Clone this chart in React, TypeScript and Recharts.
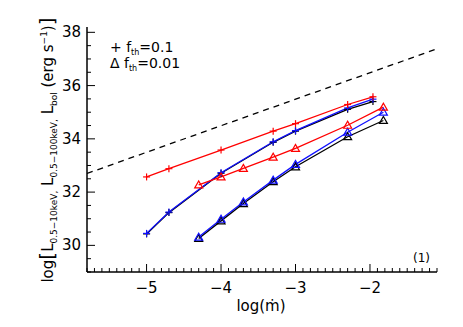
import React from 'react';
import { LineChart, Line, XAxis, YAxis } from 'recharts';

// log(mdot) positions
const mdotPlus = [-5, -4.7, -4, -3.3, -3, -2.3, -1.96];
const mdotTri = [-4.3, -4, -3.7, -3.3, -3, -2.3, -1.82];

// f_th = 0.1 (plus)
const bolPlus = [32.57, 32.88, 33.58, 34.29, 34.57, 35.29, 35.58];
const hardPlus = [30.45, 31.25, 32.73, 33.89, 34.31, 35.16, 35.49];
const softPlus = [30.43, 31.23, 32.71, 33.87, 34.29, 35.11, 35.4];

// f_th = 0.01 (triangle)
const bolTri = [32.27, 32.57, 32.89, 33.31, 33.64, 34.51, 35.19];
const hardTri = [30.31, 30.98, 31.63, 32.45, 33.04, 34.25, 35.0];
const softTri = [30.26, 30.92, 31.57, 32.39, 32.95, 34.08, 34.69];

// dashed reference line
const refX = [-5.8, -1.1];
const refY = [32.7, 37.38];

const xMajor = [-5, -4, -3, -2];
const yMajor = [30, 32, 34, 36, 38];
const xDomain: [number, number] = [-5.8, -1.1];
const yDomain: [number, number] = [29, 38.2];

const xTicks: number[] = [];
for (let i = -58; i <= -11; i++) xTicks.push(i / 10);
const yTicks: number[] = [];
for (let i = 58; i <= 76; i++) yTicks.push(i / 2);

const toPts = (xs: number[], ys: number[]) => xs.map((x, i) => ({ x, y: ys[i] }));

const FONT = '"DejaVu Sans", sans-serif';
const fmt = (v: number) => (v < 0 ? '\u2212' + Math.abs(v) : String(v));

const isMajor = (list: number[], v: number) => list.some((m) => Math.abs(m - v) < 1e-6);

function BottomTick({ x, y, payload }: any) {
  const major = isMajor(xMajor, payload.value);
  return (
    <g>
      <line x1={x} x2={x} y1={y} y2={y - (major ? 8 : 4)} stroke="#000" strokeWidth={1} />
      {major && (
        <text x={x} y={y + 21} textAnchor="middle" fontSize={15} fontFamily={FONT} fill="#000">
          {fmt(payload.value)}
        </text>
      )}
    </g>
  );
}

function TopTick({ x, y, payload }: any) {
  const major = isMajor(xMajor, payload.value);
  return <line x1={x} x2={x} y1={y} y2={y + (major ? 8 : 4)} stroke="#000" strokeWidth={1} />;
}

function LeftTick({ x, y, payload }: any) {
  const major = isMajor(yMajor, payload.value);
  return (
    <g>
      <line x1={x} x2={x + (major ? 8 : 4)} y1={y} y2={y} stroke="#000" strokeWidth={1} />
      {major && (
        <text x={x - 6} y={y + 5} textAnchor="end" fontSize={15} fontFamily={FONT} fill="#000">
          {payload.value}
        </text>
      )}
    </g>
  );
}

function RightTick({ x, y, payload }: any) {
  const major = isMajor(yMajor, payload.value);
  return <line x1={x} x2={x - (major ? 8 : 4)} y1={y} y2={y} stroke="#000" strokeWidth={1} />;
}

const plusDot = (color: string) => (p: any) => {
  const { cx, cy, index } = p;
  const s = 3.5;
  return (
    <g key={'p' + index}>
      <line x1={cx - s} x2={cx + s} y1={cy} y2={cy} stroke={color} strokeWidth={1.2} />
      <line x1={cx} x2={cx} y1={cy - s} y2={cy + s} stroke={color} strokeWidth={1.2} />
    </g>
  );
};

const triDot = (color: string) => (p: any) => {
  const { cx, cy, index } = p;
  const s = 4;
  return (
    <path
      key={'t' + index}
      d={`M${cx - s},${cy + s * 0.75} L${cx + s},${cy + s * 0.75} L${cx},${cy - s} Z`}
      fill="none"
      stroke={color}
      strokeWidth={1.2}
    />
  );
};

export default function App() {
  return (
    <div style={{ position: 'absolute', left: 0, top: 0, width: 463, height: 327, background: '#fff' }}>
      <LineChart width={463} height={327} margin={{ top: 27, right: 26, left: 0, bottom: 0 }}>
        <XAxis
          xAxisId="b"
          type="number"
          dataKey="x"
          domain={xDomain}
          ticks={xTicks}
          interval={0}
          allowDataOverflow
          height={55}
          tickSize={0}
          tickMargin={0}
          tick={<BottomTick />}
          axisLine={{ stroke: '#000', strokeWidth: 1.5 }}
        />
        <XAxis
          xAxisId="t"
          orientation="top"
          type="number"
          dataKey="x"
          domain={xDomain}
          ticks={xTicks}
          interval={0}
          allowDataOverflow
          height={0}
          tickSize={0}
          tickMargin={0}
          tick={<TopTick />}
          axisLine={{ stroke: '#000', strokeWidth: 1.5 }}
        />
        <YAxis
          yAxisId="l"
          type="number"
          domain={yDomain}
          ticks={yTicks}
          interval={0}
          allowDataOverflow
          width={87}
          tickSize={0}
          tickMargin={0}
          tick={<LeftTick />}
          axisLine={{ stroke: '#000', strokeWidth: 1.5 }}
        />
        <YAxis
          yAxisId="r"
          orientation="right"
          type="number"
          domain={yDomain}
          ticks={yTicks}
          interval={0}
          allowDataOverflow
          width={0}
          tickSize={0}
          tickMargin={0}
          tick={<RightTick />}
          axisLine={{ stroke: '#000', strokeWidth: 1.5 }}
        />
        <Line xAxisId="b" yAxisId="l" data={toPts(refX, refY)} dataKey="y" stroke="#000" strokeWidth={1.3}
          strokeDasharray="6 5" dot={false} isAnimationActive={false} />
        <Line xAxisId="b" yAxisId="l" data={toPts(mdotPlus, softPlus)} dataKey="y" stroke="#000" strokeWidth={1.3}
          dot={plusDot('#000')} isAnimationActive={false} />
        <Line xAxisId="b" yAxisId="l" data={toPts(mdotTri, softTri)} dataKey="y" stroke="#000" strokeWidth={1.3}
          dot={triDot('#000')} isAnimationActive={false} />
        <Line xAxisId="b" yAxisId="l" data={toPts(mdotPlus, hardPlus)} dataKey="y" stroke="#1010ff" strokeWidth={1.3}
          dot={plusDot('#1010ff')} isAnimationActive={false} />
        <Line xAxisId="b" yAxisId="l" data={toPts(mdotTri, hardTri)} dataKey="y" stroke="#1010ff" strokeWidth={1.3}
          dot={triDot('#1010ff')} isAnimationActive={false} />
        <Line xAxisId="b" yAxisId="l" data={toPts(mdotPlus, bolPlus)} dataKey="y" stroke="#ff0000" strokeWidth={1.3}
          dot={plusDot('#ff0000')} isAnimationActive={false} />
        <Line xAxisId="b" yAxisId="l" data={toPts(mdotTri, bolTri)} dataKey="y" stroke="#ff0000" strokeWidth={1.3}
          dot={triDot('#ff0000')} isAnimationActive={false} />
      </LineChart>
      <svg width={463} height={327} style={{ position: 'absolute', left: 0, top: 0, pointerEvents: 'none' }}
        fontFamily={FONT} fill="#000">
        <text x={110} y={52} fontSize={14}>
          + f<tspan fontSize={8} dy={3}>th</tspan><tspan dy={-3}>=0.1</tspan>
        </text>
        <text x={110} y={68} fontSize={14}>
          Δ f<tspan fontSize={8} dy={3}>th</tspan><tspan dy={-3}>=0.01</tspan>
        </text>
        <text x={413} y={262} fontSize={12}>(1)</text>
        <text x={261} y={311} fontSize={15} textAnchor="middle">log(ṁ)</text>
        <text transform="translate(53,150) rotate(-90)" textAnchor="middle" fontSize={15}>
          log<tspan fontSize={20} dy={1}>[</tspan>
          <tspan dy={-1}>L</tspan><tspan fontSize={9} dy={4}>0.5−10keV,</tspan>
          <tspan dy={-4}> L</tspan><tspan fontSize={9} dy={4}>0.5−100keV,</tspan>
          <tspan dy={-4}> L</tspan><tspan fontSize={9} dy={4}>bol</tspan>
          <tspan dy={-4}> (erg s</tspan><tspan fontSize={9} dy={-6}>−1</tspan>
          <tspan dy={6}>)</tspan><tspan fontSize={20} dy={1}>]</tspan>
        </text>
      </svg>
    </div>
  );
}
